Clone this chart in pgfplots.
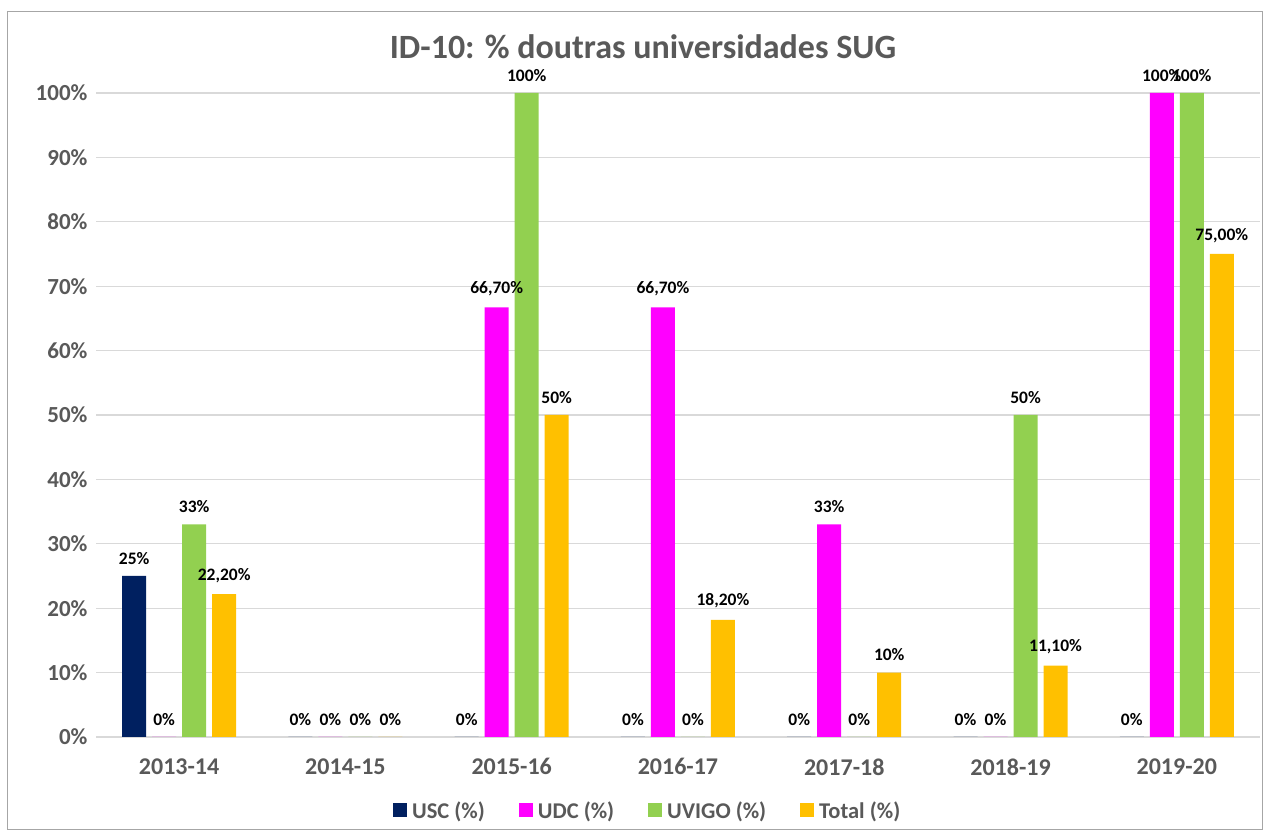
\documentclass[border=0pt]{standalone}
\usepackage{fontspec}
\setmainfont{Carlito}
\usepackage{pgfplots}
\usepackage{pgfplotstable}
\pgfplotsset{compat=1.18}
\definecolor{cusc}{HTML}{002060}
\definecolor{cudc}{HTML}{FF00FF}
\definecolor{cuvigo}{HTML}{92D050}
\definecolor{ctot}{HTML}{FFC000}
\definecolor{txtgray}{HTML}{595959}
\definecolor{gridgray}{HTML}{D9D9D9}
\definecolor{framegray}{HTML}{A6A6A6}

\pgfplotstableread{
x usc uscl udc udcl uvigo uvigol tot totl
0 25 25 0 0 33 33 22.2 22,20
1 0 0 0 0 0 0 0 0
2 0 0 66.7 66,70 100 100 50 50
3 0 0 66.7 66,70 0 0 18.2 18,20
4 0 0 33 33 0 0 10 10
5 0 0 0 0 50 50 11.1 11,10
6 0 0 100 100 100 100 75 75,00
}\datatable

\begin{document}
\begin{tikzpicture}
\useasboundingbox (0pt,0pt) rectangle (1266pt,834pt);
\draw[framegray, line width=1pt] (7pt,4pt) rectangle (1262pt,822pt);
\node[font=\fontsize{34}{38}\selectfont\bfseries, text=txtgray] at (643pt,787pt) {ID-10: \% doutras universidades SUG};
\begin{axis}[
  at={(96pt,97pt)}, anchor=south west,
  scale only axis, width=1164pt, height=644pt,
  xmin=-0.5, xmax=6.5, ymin=0, ymax=100,
  clip=false,
  ybar=6pt, bar width=24pt,
  xtick={0,...,6},
  xticklabels={2013-14,2014-15,2015-16,2016-17,2017-18,2018-19,2019-20},
  ytick={0,10,...,100},
  yticklabels={0\%,10\%,20\%,30\%,40\%,50\%,60\%,70\%,80\%,90\%,100\%},
  xticklabel style={font=\fontsize{24}{28}\selectfont\bfseries, text=txtgray, yshift=-18pt},
  yticklabel style={font=\fontsize{23}{27}\selectfont\bfseries, text=txtgray, xshift=-5pt},
  ymajorgrids, grid style={gridgray, line width=1.2pt},
  axis x line*=bottom, axis y line*=left,
  x axis line style={gridgray, line width=1.2pt, -},
  y axis line style={draw=none},
  tick style={draw=none},
  major tick length=0pt,
  point meta=explicit symbolic,
  nodes near coords={\pgfplotspointmeta\%},
  every node near coord/.append style={font=\fontsize{17.5}{20}\selectfont\bfseries, text=black, yshift=8pt},
  legend style={at={(0.474,-0.094)}, anchor=north, draw=none, legend columns=-1,
    font=\fontsize{22.5}{26}\selectfont\bfseries, text=txtgray,
    /tikz/every odd column/.append style={column sep=3pt},
    /tikz/every even column/.append style={column sep=32pt}},
  legend image code/.code={\fill[#1] (0pt,-6pt) rectangle (14pt,8pt);},
]
\addplot[fill=cusc, draw=none] table[x=x, y=usc, meta=uscl] {\datatable};
\addplot[fill=cudc, draw=none] table[x=x, y=udc, meta=udcl] {\datatable};
\addplot[fill=cuvigo, draw=none] table[x=x, y=uvigo, meta=uvigol] {\datatable};
\addplot[fill=ctot, draw=none] table[x=x, y=tot, meta=totl] {\datatable};
\legend{USC (\%),UDC (\%),UVIGO (\%),Total (\%)}
\end{axis}
\end{tikzpicture}
\end{document}
